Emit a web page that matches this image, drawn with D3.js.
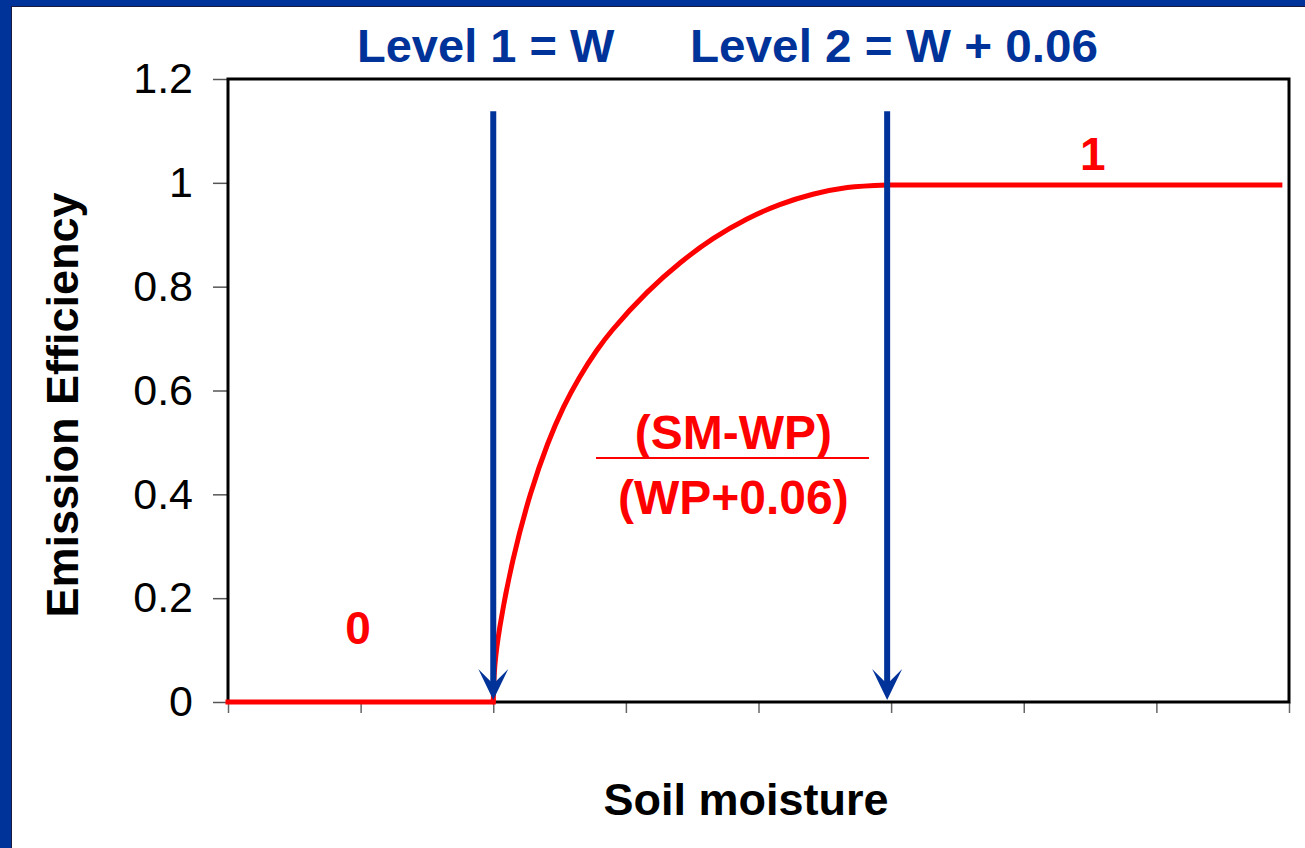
<!DOCTYPE html>
<html>
<head>
<meta charset="utf-8">
<script src="https://cdn.jsdelivr.net/npm/d3@7"></script>
<style>
  html, body { margin: 0; padding: 0; background: #fff; }
  svg { display: block; }
  text { font-family: "Liberation Sans", Arial, sans-serif; }
</style>
</head>
<body>
<svg id="chart" width="1305" height="848"></svg>
<script>
// ---- data ----
const yTicks = [0, 0.2, 0.4, 0.6, 0.8, 1.0, 1.2];
const xTicks = [0, 1, 2, 3, 4, 5, 6, 7, 8];
// segment 1: efficiency 0 below level 1
const zeroX = [0, 2];
const zeroY = [0, 0];
// segment 2: rising curve between level 1 and level 2
const riseX = [2, 2.012, 2.05, 2.15, 2.28, 2.41, 2.53, 2.65, 2.78, 2.90, 3.16, 3.41, 3.66, 3.91, 4.16, 4.41, 4.67, 4.97];
const riseY = [0, 0.07, 0.145, 0.275, 0.400, 0.497, 0.568, 0.625, 0.677, 0.717, 0.789, 0.846, 0.893, 0.930, 0.958, 0.978, 0.991, 0.996];
// segment 3: efficiency 1 above level 2
const oneX = [4.97, 7.95];
const oneY = [0.996, 0.996];
const arrowX = [2, 4.97];
const arrowTop = 1.138;
const arrowTip = 0.004;
const titleParts = ["Level 1 = W", "Level 2 = W + 0.06"];
const yTitle = "Emission Efficiency";
const xTitle = "Soil moisture";

const BLUE = "#003399", RED = "#ff0000";

const svg = d3.select("#chart");
const W = 1305, H = 848;

// blue slide frame (left and top)
svg.append("rect").attr("x", 0).attr("y", 0).attr("width", W).attr("height", H).attr("fill", "#ffffff");
svg.append("rect").attr("x", 0).attr("y", 0).attr("width", 11).attr("height", H).attr("fill", BLUE);
svg.append("rect").attr("x", 0).attr("y", 0).attr("width", W).attr("height", 6).attr("fill", BLUE);
svg.append("line").attr("x1", 11.5).attr("x2", 11.5).attr("y1", 6).attr("y2", H).attr("stroke", "#1a1a40").attr("stroke-width", 1);
svg.append("line").attr("x1", 11).attr("x2", W).attr("y1", 6.5).attr("y2", 6.5).attr("stroke", "#1a1a40").attr("stroke-width", 1);

const x = d3.scaleLinear().domain([0, 8]).range([228, 1289]);
const y = d3.scaleLinear().domain([0, 1.2]).range([702, 79]);

// y axis
const yAxis = d3.axisLeft(y).tickValues(yTicks).tickSize(15).tickPadding(20)
  .tickFormat(d => d3.format("")(+d.toFixed(1)));
const gy = svg.append("g").attr("transform", `translate(${x(0)},0)`).call(yAxis);
gy.select(".domain").remove();
gy.selectAll(".tick line").attr("stroke", "#555").attr("stroke-width", 1.5);
gy.selectAll(".tick text").attr("font-size", 43).attr("fill", "#000")
  .attr("font-family", "'Liberation Sans', Arial, sans-serif");

// x axis (ticks only, no labels)
const xAxis = d3.axisBottom(x).tickValues(xTicks).tickSize(11).tickFormat("");
const gx = svg.append("g").attr("transform", `translate(0,${y(0)})`).call(xAxis);
gx.select(".domain").remove();
gx.selectAll(".tick line").attr("stroke", "#666").attr("stroke-width", 1.5);

// plot frame
svg.append("rect")
  .attr("x", x(0)).attr("y", y(1.2))
  .attr("width", x(8) - x(0)).attr("height", y(0) - y(1.2))
  .attr("fill", "none").attr("stroke", "#000").attr("stroke-width", 3);

// curve segments
const line = d3.line().x(d => x(d[0])).y(d => y(d[1])).curve(d3.curveCatmullRom.alpha(0.5));
const segs = [
  { xs: zeroX, ys: zeroY, cap: "square" },
  { xs: riseX, ys: riseY, cap: "round" },
  { xs: oneX, ys: oneY, cap: "butt" }
];
segs.forEach(s => {
  svg.append("path").datum(s.xs.map((v, i) => [v, s.ys[i]]))
    .attr("d", line)
    .attr("fill", "none").attr("stroke", RED).attr("stroke-width", 5)
    .attr("stroke-linecap", s.cap).attr("stroke-linejoin", "round");
});

// arrows
arrowX.forEach(ax => {
  const px = x(ax), top = y(arrowTop), tip = y(arrowTip);
  svg.append("line").attr("x1", px).attr("x2", px).attr("y1", top).attr("y2", tip - 14)
    .attr("stroke", BLUE).attr("stroke-width", 6);
  svg.append("path")
    .attr("d", `M${px},${tip} L${px - 15},${tip - 31} L${px},${tip - 16} L${px + 15},${tip - 31} Z`)
    .attr("fill", BLUE);
});

// title
svg.append("text").attr("x", 357).attr("y", 62).attr("font-size", 47).attr("font-weight", "bold")
  .attr("fill", BLUE).text(titleParts[0]);
svg.append("text").attr("x", 690).attr("y", 62).attr("font-size", 47).attr("font-weight", "bold")
  .attr("fill", BLUE).attr("textLength", 408).attr("lengthAdjust", "spacingAndGlyphs").text(titleParts[1]);

// axis titles
svg.append("text").attr("transform", `translate(78,${405}) rotate(-90)`)
  .attr("text-anchor", "middle").attr("font-size", 45).attr("font-weight", "bold")
  .attr("fill", "#000").text(yTitle);
svg.append("text").attr("x", 746).attr("y", 815)
  .attr("text-anchor", "middle").attr("font-size", 45).attr("font-weight", "bold")
  .attr("fill", "#000").text(xTitle);

// annotations
svg.append("text").attr("x", x(0.98)).attr("y", 644).attr("text-anchor", "middle")
  .attr("font-size", 46).attr("font-weight", "bold").attr("fill", RED).text("0");
svg.append("text").attr("x", x(6.52)).attr("y", 170).attr("text-anchor", "middle")
  .attr("font-size", 46).attr("font-weight", "bold").attr("fill", RED).text("1");
svg.append("text").attr("x", x(3.81)).attr("y", 449).attr("text-anchor", "middle")
  .attr("font-size", 48).attr("font-weight", "bold").attr("fill", RED).text("(SM-WP)");
svg.append("line").attr("x1", 596).attr("x2", 869).attr("y1", 458).attr("y2", 458)
  .attr("stroke", RED).attr("stroke-width", 2);
svg.append("text").attr("x", x(3.81)).attr("y", 514).attr("text-anchor", "middle")
  .attr("font-size", 48).attr("font-weight", "bold").attr("fill", RED).text("(WP+0.06)");
</script>
</body>
</html>
